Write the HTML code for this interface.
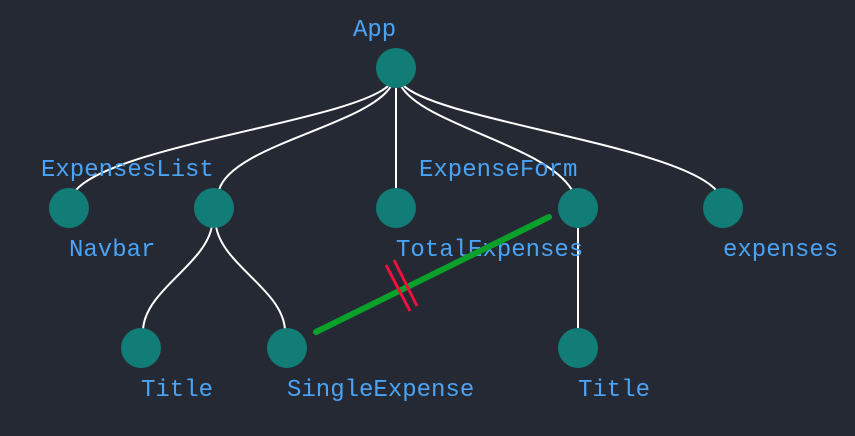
<!DOCTYPE html>
<html><head><style>
html,body{margin:0;padding:0;background:#242933;}
svg{display:block}
text{font-family:"Liberation Mono",monospace;font-size:24px;fill:#4ba3f5;}
</style></head><body>
<svg width="855" height="436" viewBox="0 0 855 436">
<rect width="855" height="436" fill="#242933"/>
<g fill="none" stroke="#ffffff" stroke-width="2">
<path d="M389,85 C355,120 115,145 76,190"/>
<path d="M391,86 C368,125 232,145 219,190"/>
<path d="M396,88 L396,190"/>
<path d="M401,86 C424,125 545,145 572,190"/>
<path d="M403,85 C437,120 675,145 716,190"/>
<path d="M212,226 C205,265 145,290 143,330"/>
<path d="M216,226 C222,265 283,290 285,330"/>
<path d="M578,226 L578,330"/>
</g>
<g fill="#117d76">
<circle cx="396" cy="68" r="20"/>
<circle cx="69" cy="208" r="20"/>
<circle cx="214" cy="208" r="20"/>
<circle cx="396" cy="208" r="20"/>
<circle cx="578" cy="208" r="20"/>
<circle cx="723" cy="208" r="20"/>
<circle cx="141" cy="348" r="20"/>
<circle cx="287" cy="348" r="20"/>
<circle cx="578" cy="348" r="20"/>
</g>
<text x="353" y="36">App</text>
<text x="41" y="176">ExpensesList</text>
<text x="419" y="176">ExpenseForm</text>
<text x="69" y="256">Navbar</text>
<text x="396" y="256">TotalExpenses</text>
<text x="723" y="256">expenses</text>
<text x="141" y="396">Title</text>
<text x="287" y="396">SingleExpense</text>
<text x="578" y="396">Title</text>
<line x1="316" y1="332" x2="549" y2="217" stroke="#0aa12a" stroke-width="6" stroke-linecap="round"/>
<line x1="386" y1="265" x2="410" y2="311" stroke="#f0103c" stroke-width="3"/>
<line x1="394" y1="260" x2="417" y2="306" stroke="#f0103c" stroke-width="3"/>
</svg>
</body></html>
